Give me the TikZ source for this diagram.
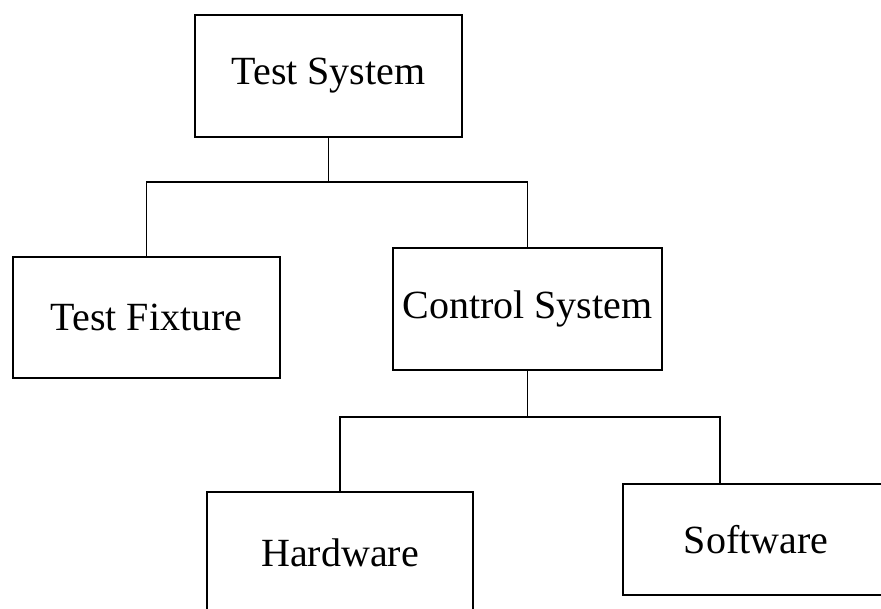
\documentclass[tikz,border=0pt]{standalone}
\usepackage{fontspec}
\setmainfont{Liberation Serif}
\begin{document}
\begin{tikzpicture}[x=1pt,y=-1pt,
  box/.style={draw,line width=1.6pt,inner sep=0pt,font=\fontsize{40}{46}\selectfont},
  conn/.style={line width=1.6pt}]
\useasboundingbox (0,0) rectangle (881,609);
\clip (0,0) rectangle (881,609);
\node[box,minimum width=267pt,minimum height=122pt] (ts) at (328.5,76) {Test System};
\node[box,minimum width=267pt,minimum height=121pt] (tf) at (146.5,317.5) {Test Fixture};
\node[box,minimum width=269pt,minimum height=122pt] (cs) at (527.5,309) {Control System};
\node[box,minimum width=266pt,minimum height=122pt] (hw) at (340,553) {Hardware};
\node[box,minimum width=266pt,minimum height=111pt] (sw) at (756,539.5) {Software};
\coordinate (j1) at (328.5,182);
\coordinate (j2) at (527.5,417);
\coordinate (swtop) at (720,484);
\draw[conn] (ts.south) -- (j1);
\draw[conn] (tf.north) |- (j1) -| (cs.north);
\draw[conn] (cs.south) -- (j2);
\draw[conn] (hw.north) |- (j2) -| (swtop);
\end{tikzpicture}
\end{document}
